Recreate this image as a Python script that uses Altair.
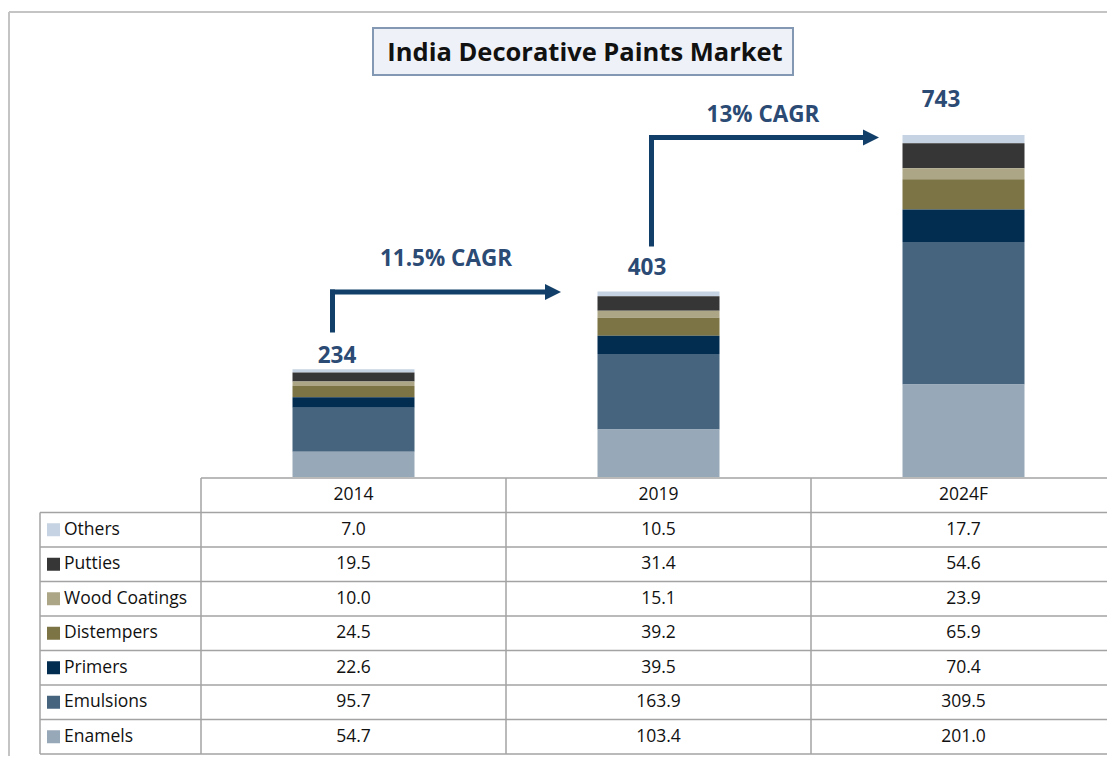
import altair as alt
import pandas as pd

# ---------------- data ----------------
years = ["2014", "2019", "2024F"]
categories = ["Others", "Putties", "Wood Coatings", "Distempers", "Primers", "Emulsions", "Enamels"]
others = [7.0, 10.5, 17.7]
putties = [19.5, 31.4, 54.6]
wood_coatings = [10.0, 15.1, 23.9]
distempers = [24.5, 39.2, 65.9]
primers = [22.6, 39.5, 70.4]
emulsions = [95.7, 163.9, 309.5]
enamels = [54.7, 103.4, 201.0]
totals = [234, 403, 743]
cagr_labels = ["11.5% CAGR", "13% CAGR"]
title_text = "India Decorative Paints Market"

# ---------------- styles ----------------
colors = ["#C5D3E2", "#363636", "#ADA686", "#7D7445", "#022D50", "#47647F", "#97A9B8"]
LABEL_BLUE = "#2B4A74"
ARROW = "#123F69"
GRID = "#A3A3A3"
FONT = "Open Sans"
TABLE_FS = 17.5
W, H = 1099, 748

series = [others, putties, wood_coatings, distempers, primers, emulsions, enamels]
recs = []
for ci, (cat, vals) in enumerate(zip(categories, series)):
    for yr, v in zip(years, vals):
        recs.append({"year": yr, "category": cat, "value": v,
                     "stack": len(categories) - ci})
df = pd.DataFrame(recs)

xscale = alt.Scale(domain=years, range=[193, 1108], paddingInner=0.6, paddingOuter=0.3)
ybar = alt.Scale(domain=[0, 743], range=[469, 127])
row_domain = ["hdr"] + categories
yrow = alt.Scale(domain=row_domain, range=[470, 746], paddingInner=0, paddingOuter=0)
cscale = alt.Scale(domain=categories, range=colors)

X = alt.X("year:N", scale=xscale, axis=None)

layers = []

# outer frame (left and top edges visible)
layers.append(alt.Chart(pd.DataFrame({"a": [0]})).mark_rule(color="#C4C4C4", strokeWidth=2).encode(
    x=alt.value(1), y=alt.value(4), y2=alt.value(H)))
layers.append(alt.Chart(pd.DataFrame({"a": [0]})).mark_rule(color="#C4C4C4", strokeWidth=2).encode(
    x=alt.value(1), x2=alt.value(W), y=alt.value(4)))

# title box
layers.append(alt.Chart(pd.DataFrame({"a": [0]})).mark_rect(
    fill="#EEF2F8", stroke="#8398B3", strokeWidth=2).encode(
    x=alt.value(365), x2=alt.value(785), y=alt.value(20), y2=alt.value(67)))
layers.append(alt.Chart(pd.DataFrame({"t": [title_text]})).mark_text(
    font=FONT, fontSize=25.5, fontWeight="bold", color="#111111", baseline="middle").encode(
    x=alt.value(577), y=alt.value(45), text="t:N"))

# stacked bars
layers.append(alt.Chart(df).mark_bar().encode(
    x=X,
    y=alt.Y("value:Q", scale=ybar, axis=None, stack="zero"),
    color=alt.Color("category:N", scale=cscale, legend=None),
    order=alt.Order("stack:Q"),
))

# total labels
label_dx = [-16.5, -11.5, -22.5]
label_dy = [-13, -23.5, -35]
for yr, tot, dx, dy in zip(years, totals, label_dx, label_dy):
    layers.append(alt.Chart(pd.DataFrame({"year": [yr], "total": [tot]})).mark_text(
        font=FONT, fontSize=22.5, fontWeight="bold", color=LABEL_BLUE,
        baseline="middle", dx=dx, dy=dy).encode(
        x=X, y=alt.Y("total:Q", scale=ybar, axis=None), text="total:Q"))

# CAGR arrows + labels
arrow_specs = [
    dict(vx=324.5, vy0=322, hy=284, hx1=540, head=545, lx=438, ly=251),
    dict(vx=643.5, vy0=236, hy=129.5, hx1=858, head=863, lx=755, ly=107),
]
tri = "M-1,-1L1,0L-1,1Z"
for lab, a in zip(cagr_labels, arrow_specs):
    d0 = pd.DataFrame({"a": [0]})
    layers.append(alt.Chart(d0).mark_rule(color=ARROW, strokeWidth=5, strokeCap="square").encode(
        x=alt.value(a["vx"]), y=alt.value(a["vy0"]), y2=alt.value(a["hy"])))
    layers.append(alt.Chart(d0).mark_rule(color=ARROW, strokeWidth=5, strokeCap="square").encode(
        x=alt.value(a["vx"]), x2=alt.value(a["hx1"]), y=alt.value(a["hy"])))
    layers.append(alt.Chart(d0).mark_point(shape=tri, filled=True, color=ARROW, size=256, opacity=1).encode(
        x=alt.value(a["head"]), y=alt.value(a["hy"])))
    layers.append(alt.Chart(pd.DataFrame({"t": [lab]})).mark_text(
        font=FONT, fontSize=22.5, fontWeight="bold", color=LABEL_BLUE, baseline="middle").encode(
        x=alt.value(a["lx"]), y=alt.value(a["ly"]), text="t:N"))

# ---------------- table ----------------
# header texts
layers.append(alt.Chart(pd.DataFrame({"year": years, "row": ["hdr"] * 3})).mark_text(
    font=FONT, fontSize=TABLE_FS, color="#111111", baseline="middle").encode(
    x=X, y=alt.Y("row:N", scale=yrow, axis=None), text="year:N"))
# values
layers.append(alt.Chart(df).mark_text(
    font=FONT, fontSize=TABLE_FS, color="#111111", baseline="middle").encode(
    x=X, y=alt.Y("category:N", scale=yrow, axis=None),
    text=alt.Text("value:Q", format=".1f")))
# swatches
cat_df = pd.DataFrame({"category": categories})
layers.append(alt.Chart(cat_df).mark_square(size=169, opacity=1).encode(
    x=alt.value(45.5), y=alt.Y("category:N", scale=yrow, axis=None),
    color=alt.Color("category:N", scale=cscale, legend=None)))
layers.append(alt.Chart(cat_df).mark_text(
    font=FONT, fontSize=TABLE_FS, color="#111111", align="left", baseline="middle").encode(
    x=alt.value(56), y=alt.Y("category:N", scale=yrow, axis=None), text="category:N"))

# horizontal grid lines
layers.append(alt.Chart(pd.DataFrame({"row": ["hdr"]})).mark_rule(color=GRID, strokeWidth=1.5).encode(
    x=alt.value(193), x2=alt.value(W), y=alt.Y("row:N", scale=yrow, axis=None, bandPosition=0)))
layers.append(alt.Chart(cat_df).mark_rule(color=GRID, strokeWidth=1.5).encode(
    x=alt.value(32), x2=alt.value(W), y=alt.Y("category:N", scale=yrow, axis=None, bandPosition=0)))
layers.append(alt.Chart(pd.DataFrame({"category": [categories[-1]]})).mark_rule(color=GRID, strokeWidth=1.5).encode(
    x=alt.value(32), x2=alt.value(W), y=alt.Y("category:N", scale=yrow, axis=None, bandPosition=1)))
# vertical grid lines
vlines = [(32, 504.5), (193, 470), (498, 470), (803, 470)]
for vx, top in vlines:
    layers.append(alt.Chart(pd.DataFrame({"a": [0]})).mark_rule(color=GRID, strokeWidth=1.5).encode(
        x=alt.value(vx), y=alt.value(top), y2=alt.value(746)))

chart = alt.layer(*layers).resolve_scale(y="independent", color="shared").properties(
    width=W, height=H, padding=0, autosize=alt.AutoSizeParams(type="none"),
).configure_view(stroke=None)

chart.save("out.html", embed_options={"renderer": "svg", "actions": False})
